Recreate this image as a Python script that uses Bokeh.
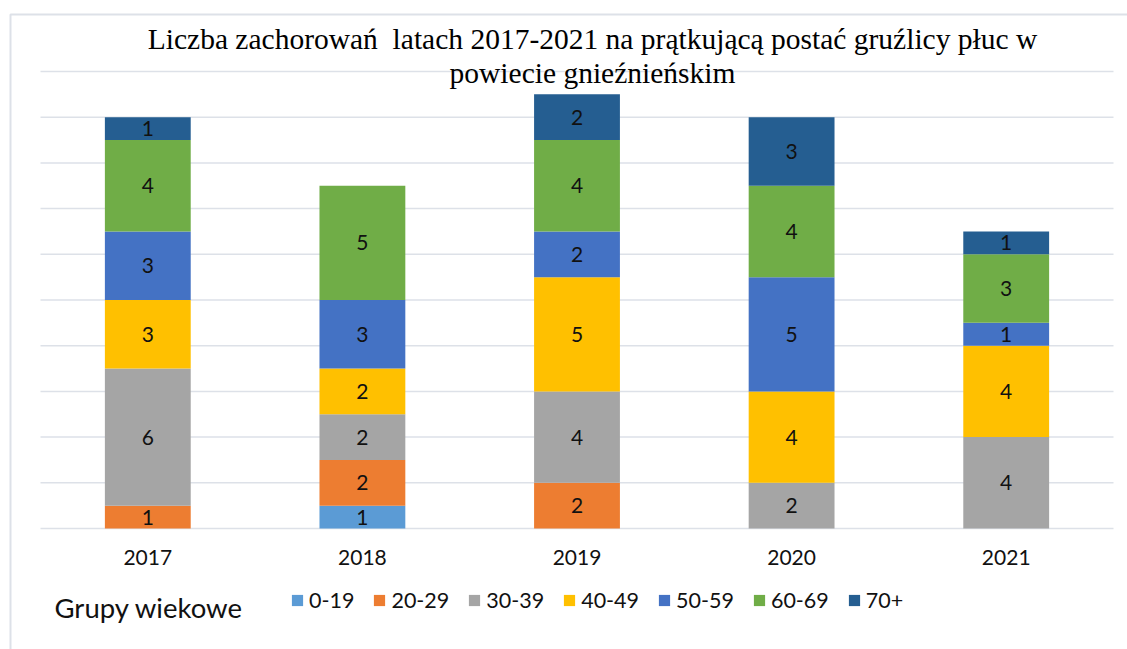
from bokeh.plotting import figure
from bokeh.models import Range1d, Legend, LegendItem
from bokeh.core.properties import value
from bokeh.embed import file_html
from bokeh.resources import INLINE

# ---------------- data ----------------
years = ["2017", "2018", "2019", "2020", "2021"]
groups = ["0-19", "20-29", "30-39", "40-49", "50-59", "60-69", "70+"]
v_0_19 = [0, 1, 0, 0, 0]
v_20_29 = [1, 2, 2, 0, 0]
v_30_39 = [6, 2, 4, 2, 4]
v_40_49 = [3, 2, 5, 4, 4]
v_50_59 = [3, 3, 2, 5, 1]
v_60_69 = [4, 5, 4, 4, 3]
v_70 = [1, 0, 2, 3, 1]
series = [v_0_19, v_20_29, v_30_39, v_40_49, v_50_59, v_60_69, v_70]
colors = ["#5B9BD5", "#ED7D31", "#A5A5A5", "#FFC000", "#4472C4", "#70AD47", "#255E91"]
grid_ticks = [0, 2, 4, 6, 8, 10, 12, 14, 16, 18, 20]
title_lines = ["Liczba zachorowań\u00a0 latach 2017-2021 na prątkującą postać gruźlicy płuc w",
               "powiecie gnieźnieńskim"]
legend_title = "Grupy wiekowe"

# ---------------- geometry (canvas px) ----------------
W, H = 1127, 649
CX0 = 147.3     # canvas x of first category centre
STEP = 214.6    # px per category
Y0 = 528.0      # canvas y of value 0
UNIT = 22.85    # px per case


def dx(px):
    return (px - CX0) / STEP


def dy(py):
    return (Y0 - py) / UNIT


SANS = "Lato"
SERIF = "Liberation Serif"

p = figure(width=W, height=H, x_range=Range1d(dx(0), dx(W)), y_range=Range1d(dy(H), dy(0)),
           x_axis_location=None, y_axis_location=None, min_border=0,
           toolbar_location=None, output_backend="svg")
p.grid.visible = False
p.outline_line_color = None
p.background_fill_color = "white"
p.border_fill_color = "white"

# chart border (left / top)
p.line(x=[dx(10), dx(10), dx(W + 20)], y=[dy(H + 20), dy(14), dy(14)],
       line_color="#dde1e8", line_width=2)

# gridlines
n = len(years)
p.segment(x0=[-0.5] * len(grid_ticks), x1=[n - 0.5] * len(grid_ticks),
          y0=grid_ticks, y1=grid_ticks, line_color="#dde1e8", line_width=1.5)

# stacked bars
xs = list(range(n))
bottoms = [0] * n
renderers = []
lab_x, lab_y, lab_t = [], [], []
for vals, col in zip(series, colors):
    tops = [b + v for b, v in zip(bottoms, vals)]
    r = p.vbar(x=xs, bottom=bottoms, top=tops, width=0.4, fill_color=col, line_color=None)
    renderers.append(r)
    for i, v in enumerate(vals):
        if v:
            lab_x.append(i)
            lab_y.append(bottoms[i] + v / 2)
            lab_t.append(str(v))
    bottoms = tops

p.text(x=lab_x, y=lab_y, text=lab_t, text_align="center", text_baseline="middle",
       text_font=value(SANS), text_font_size="21px", text_color="#111111")

# category labels
p.text(x=xs, y=[dy(557)] * n, text=years, text_align="center", text_baseline="middle",
       text_font=value(SANS), text_font_size="21px", text_color="#111111")

# title
p.text(x=[dx(592)] * 2, y=[dy(38), dy(72)], text=title_lines, text_align="center",
       text_baseline="alphabetic", text_font=value(SERIF), text_font_size="29.5px",
       text_color="#000000")

# legend title
p.text(x=[dx(54)], y=[dy(607)], text=[legend_title], text_align="left",
       text_baseline="alphabetic", text_font=value(SANS), text_font_size="27.5px",
       text_color="#111111")

legend = Legend(items=[LegendItem(label=g, renderers=[r]) for g, r in zip(groups, renderers)],
                orientation="horizontal", location=(290, 36),
                glyph_width=14, glyph_height=14, label_height=14, label_standoff=5,
                spacing=18, padding=0, margin=0,
                label_text_font=SANS, label_text_font_size="21.5px", label_text_color="#111111",
                border_line_color=None, background_fill_alpha=0)
p.add_layout(legend, "center")

open("out.html", "w").write(file_html(p, INLINE))
